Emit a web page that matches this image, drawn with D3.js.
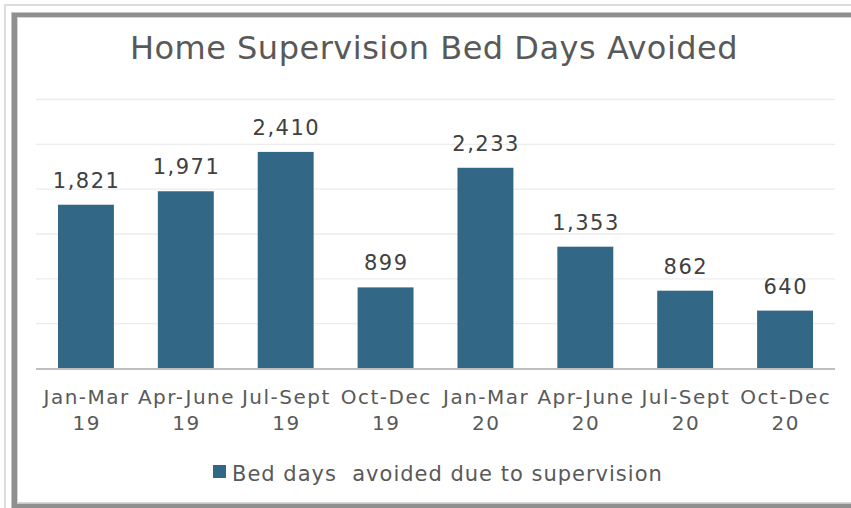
<!DOCTYPE html>
<html>
<head>
<meta charset="utf-8">
<script src="https://cdn.jsdelivr.net/npm/d3@7"></script>
<style>
  body { margin: 0; background: #fff; }
  svg { display: block; }
  text { font-family: "DejaVu Sans", sans-serif; white-space: pre; }
</style>
</head>
<body>
<div id="chart"></div>
<script>
const periods = ["Jan-Mar|19", "Apr-June|19", "Jul-Sept|19", "Oct-Dec|19",
                 "Jan-Mar|20", "Apr-June|20", "Jul-Sept|20", "Oct-Dec|20"]
const bedDays = [1821, 1971, 2410, 899, 2233, 1353, 862, 640]
const yTicks = [0, 500, 1000, 1500, 2000, 2500, 3000]
const seriesName = "Bed days  avoided due to supervision"
const title = "Home Supervision Bed Days Avoided"

const W = 851, H = 508
const barColor = "#326886"
const plot = { left: 36, right: 835, top: 99, bottom: 368 }

const svg = d3.select("#chart").append("svg")
  .attr("width", W).attr("height", H)

// frame round the chart
svg.append("rect")
  .attr("x", 5).attr("y", 5).attr("width", 900).attr("height", 600)
  .attr("fill", "none").attr("stroke", "#dcdcdc").attr("stroke-width", 2)
svg.append("rect")
  .attr("x", 14.5).attr("y", 15).attr("width", 900).attr("height", 491)
  .attr("fill", "none").attr("stroke", "#8f8f8f").attr("stroke-width", 5)
svg.append("rect")
  .attr("x", 11.5).attr("y", 12.5).attr("width", 900).attr("height", 496)
  .attr("fill", "none").attr("stroke", "#c4c4c4").attr("stroke-width", 1)
svg.append("rect")
  .attr("x", 17.5).attr("y", 17.5).attr("width", 900).attr("height", 485)
  .attr("fill", "none").attr("stroke", "#d6d6d6").attr("stroke-width", 1)

let x = d3.scaleBand()
  .domain(periods)
  .range([plot.left, plot.right])
  .paddingInner(0.44)
  .paddingOuter(0.22)

let y = d3.scaleLinear()
  .domain([0, 3000])
  .range([plot.bottom, plot.top])

// gridlines
svg.append("g")
  .attr("transform", "translate(" + plot.left + ",0)")
  .call(d3.axisLeft(y).tickValues(yTicks.slice(1)).tickSize(-(plot.right - plot.left)).tickFormat(""))
  .call(g => g.select(".domain").remove())
  .call(g => g.selectAll("line").attr("stroke", "#ececec").attr("stroke-width", 1.3))

// bars
svg.append("g").selectAll("rect")
  .data(bedDays)
  .enter()
  .append("rect")
  .attr("x", (d, i) => x(periods[i]))
  .attr("y", d => y(d))
  .attr("width", x.bandwidth())
  .attr("height", d => y(0) - y(d))
  .attr("fill", barColor)

// baseline
svg.append("line")
  .attr("x1", plot.left).attr("x2", plot.right)
  .attr("y1", y(0) + 1).attr("y2", y(0) + 1)
  .attr("stroke", "#bfbfbf").attr("stroke-width", 2)

// value labels
svg.append("g").selectAll("text")
  .data(bedDays)
  .enter()
  .append("text")
  .attr("x", (d, i) => x(periods[i]) + x.bandwidth() / 2 + 0.7)
  .attr("y", d => y(d) - 17)
  .attr("text-anchor", "middle")
  .attr("font-size", 21)
  .attr("letter-spacing", 1.5)
  .attr("fill", "#404040")
  .text(d => d3.format(",")(d))

// category labels, two lines each
let cat = svg.append("g").selectAll("text")
  .data(periods)
  .enter()
  .append("text")
  .attr("text-anchor", "middle")
  .attr("font-size", 20)
  .attr("letter-spacing", 1.5)
  .attr("fill", "#595959")
cat.each(function(d) {
  let parts = d.split("|")
  let t = d3.select(this)
  parts.forEach((p, k) => {
    t.append("tspan")
      .attr("x", x(d) + x.bandwidth() / 2 + 0.7)
      .attr("y", 404 + k * 25.5)
      .text(p)
  })
})

// title
svg.append("text")
  .attr("x", 434).attr("y", 59)
  .attr("text-anchor", "middle")
  .attr("font-size", 32)
  .attr("fill", "#595959")
  .attr("letter-spacing", 0.5)
  .text(title)

// legend
svg.append("rect")
  .attr("x", 213).attr("y", 465).attr("width", 13).attr("height", 13)
  .attr("fill", barColor)
svg.append("text")
  .attr("x", 232).attr("y", 481)
  .attr("font-size", 21)
  .attr("letter-spacing", 1)
  .attr("fill", "#595959")
  .text(seriesName)
</script>
</body>
</html>
